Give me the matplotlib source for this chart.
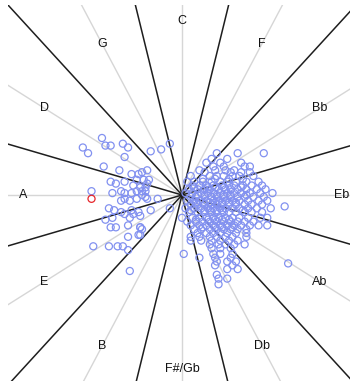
import numpy as np
import matplotlib
matplotlib.use("Agg")
import matplotlib.pyplot as plt

# Key names around the circle of fifths, clockwise from the top
keys = ["C", "F", "Bb", "Eb", "Ab", "Db", "F#/Gb", "B", "E", "A", "D", "G"]
key_angles_deg = [90, 60, 30, 0, -30, -60, -90, -120, -150, 180, 150, 120]

# Sector boundaries sit half-way between neighbouring keys
boundary_angles_deg = [15, 45, 75, 105, 135, 165, 195, 225, 255, 285, 315, 345]

# Pieces located in the key plane (x, y)
x = [
    # left group
    -0.57, -0.54, -0.46, -0.44, -0.41, -0.34, -0.31, -0.33, -0.18, -0.12, -0.07,
    -0.45, -0.36, -0.20, -0.29, -0.25, -0.41, -0.38, -0.33, -0.26, -0.22, -0.19,
    -0.28, -0.24, -0.21, -0.21, -0.52, -0.40, -0.35, -0.33, -0.29, -0.26, -0.23,
    -0.35, -0.33, -0.30, -0.26, -0.20, -0.14, -0.42, -0.39, -0.35, -0.29, -0.28,
    -0.24, -0.18, -0.44, -0.40, -0.33, -0.30, -0.41, -0.38, -0.31, -0.24, -0.23,
    -0.25, -0.31, -0.51, -0.42, -0.37, -0.34, -0.31, -0.30, -0.07, 0.01,
    -0.23, -0.20, -0.23, -0.21, -0.25, -0.24, -0.24,
    # right group
    0.20, 0.32, 0.47,
    0.17, 0.26,
    0.14, 0.22, 0.34,
    0.18, 0.24, 0.36, 0.39,
    0.10, 0.19, 0.25, 0.30,
    0.13, 0.28, 0.34, 0.39,
    0.05, 0.16, 0.20, 0.24, 0.29, 0.33, 0.41,
    0.12, 0.19, 0.27, 0.35,
    0.03, 0.07, 0.12, 0.17, 0.22, 0.26, 0.31, 0.37, 0.44,
    0.06, 0.10, 0.14, 0.18, 0.23, 0.27, 0.30, 0.35, 0.40, 0.46,
    0.07, 0.15, 0.19, 0.24, 0.34,
    0.04, 0.09, 0.13, 0.16, 0.21, 0.25, 0.28, 0.32, 0.37, 0.43, 0.48,
    0.02, 0.06, 0.11, 0.15, 0.18, 0.22, 0.26, 0.30, 0.34, 0.39, 0.45, 0.52,
    0.09, 0.13, 0.20, 0.24, 0.28, 0.37,
    0.05, 0.08, 0.13, 0.17, 0.20, 0.24, 0.28, 0.32, 0.36, 0.41, 0.47,
    0.03, 0.07, 0.10, 0.14, 0.18, 0.21, 0.25, 0.29, 0.33, 0.38, 0.44, 0.49,
    0.08, 0.12, 0.16, 0.19, 0.23, 0.27, 0.31,
    0.05, 0.09, 0.13, 0.17, 0.20, 0.23, 0.27, 0.31, 0.36, 0.40, 0.46, 0.59,
    0.02, 0.07, 0.11, 0.15, 0.18, 0.22, 0.25, 0.29, 0.33, 0.38, 0.43, 0.51,
    0.05, 0.13, 0.16, 0.20, 0.23, 0.35,
    0.04, 0.09, 0.13, 0.17, 0.20, 0.24, 0.27, 0.31, 0.36, 0.40, 0.46,
    0.00, 0.06, 0.10, 0.14, 0.18, 0.21, 0.25, 0.29, 0.33, 0.38, 0.45, 0.49,
    0.08, 0.15, 0.19, 0.23, 0.27,
    0.03, 0.08, 0.12, 0.16, 0.20, 0.24, 0.28, 0.32, 0.36, 0.41,
    0.05, 0.10, 0.14, 0.18, 0.22, 0.26, 0.30, 0.34, 0.39, 0.44, 0.49,
    0.12, 0.19, 0.23, 0.29,
    0.07, 0.11, 0.16, 0.20, 0.24, 0.28, 0.32, 0.37,
    0.09, 0.14, 0.18, 0.22, 0.26, 0.31, 0.37,
    0.05, 0.10, 0.16, 0.20, 0.25, 0.29, 0.37,
    0.05, 0.11, 0.17, 0.22, 0.27, 0.32,
    0.16, 0.21, 0.25, 0.30, 0.36,
    0.17, 0.22, 0.28,
    0.18, 0.22, 0.29,
    0.10, 0.19, 0.28,
    0.20, 0.26, 0.31, 0.61,
    0.19, 0.29,
    0.26, 0.32,
    0.20,
    0.21, 0.26,
    0.21,
]
y = [
    # left group
    0.25, 0.22, 0.30, 0.26, 0.26, 0.27, 0.25, 0.20, 0.23, 0.24, 0.27,
    0.15, 0.13, 0.13, 0.11, 0.11, 0.07, 0.06, 0.07, 0.08, 0.08, 0.08,
    0.05, 0.04, 0.04, 0.02, 0.02, 0.01, 0.02, 0.01, 0.01, 0.02, 0.00,
    -0.03, -0.02, -0.03, -0.02, -0.02, -0.02, -0.07, -0.08, -0.09, -0.08, -0.10,
    -0.11, -0.08, -0.13, -0.12, -0.10, -0.12, -0.17, -0.17, -0.16, -0.17, -0.18,
    -0.21, -0.22, -0.27, -0.27, -0.27, -0.27, -0.29, -0.40, -0.07, -0.31,
    0.12, 0.06, 0.02, -0.01, -0.09, -0.17, -0.21,
    # right group
    0.22, 0.22, 0.22,
    0.19, 0.19,
    0.17, 0.17, 0.17,
    0.15, 0.15, 0.15, 0.15,
    0.13, 0.13, 0.13, 0.13,
    0.12, 0.12, 0.12, 0.12,
    0.10, 0.10, 0.10, 0.10, 0.10, 0.10, 0.10,
    0.085, 0.085, 0.085, 0.085,
    0.07, 0.07, 0.07, 0.07, 0.07, 0.07, 0.07, 0.07, 0.07,
    0.05, 0.05, 0.05, 0.05, 0.05, 0.05, 0.05, 0.05, 0.05, 0.05,
    0.04, 0.04, 0.04, 0.04, 0.04,
    0.03, 0.03, 0.03, 0.03, 0.03, 0.03, 0.03, 0.03, 0.03, 0.03, 0.03,
    0.01, 0.01, 0.01, 0.01, 0.01, 0.01, 0.01, 0.01, 0.01, 0.01, 0.01, 0.01,
    0.00, 0.00, 0.00, 0.00, 0.00, 0.00,
    -0.01, -0.01, -0.01, -0.01, -0.01, -0.01, -0.01, -0.01, -0.01, -0.01, -0.01,
    -0.03, -0.03, -0.03, -0.03, -0.03, -0.03, -0.03, -0.03, -0.03, -0.03, -0.03, -0.03,
    -0.04, -0.04, -0.04, -0.04, -0.04, -0.04, -0.04,
    -0.05, -0.05, -0.05, -0.05, -0.05, -0.05, -0.05, -0.05, -0.05, -0.05, -0.05, -0.06,
    -0.07, -0.07, -0.07, -0.07, -0.07, -0.07, -0.07, -0.07, -0.07, -0.07, -0.07, -0.07,
    -0.08, -0.08, -0.08, -0.08, -0.08, -0.08,
    -0.09, -0.09, -0.09, -0.09, -0.09, -0.09, -0.09, -0.09, -0.09, -0.09, -0.09,
    -0.12, -0.12, -0.12, -0.12, -0.12, -0.12, -0.12, -0.12, -0.12, -0.12, -0.12, -0.12,
    -0.13, -0.13, -0.13, -0.13, -0.13,
    -0.14, -0.14, -0.14, -0.14, -0.14, -0.14, -0.14, -0.14, -0.14, -0.14,
    -0.16, -0.16, -0.16, -0.16, -0.16, -0.16, -0.16, -0.16, -0.16, -0.16, -0.16,
    -0.17, -0.17, -0.17, -0.17,
    -0.18, -0.18, -0.18, -0.18, -0.18, -0.18, -0.18, -0.18,
    -0.20, -0.20, -0.20, -0.20, -0.20, -0.20, -0.20,
    -0.22, -0.22, -0.22, -0.22, -0.22, -0.22, -0.22,
    -0.24, -0.24, -0.24, -0.24, -0.24, -0.24,
    -0.26, -0.26, -0.26, -0.26, -0.26,
    -0.28, -0.28, -0.28,
    -0.31, -0.31, -0.31,
    -0.33, -0.33, -0.33,
    -0.35, -0.35, -0.35, -0.36,
    -0.37, -0.37,
    -0.39, -0.39,
    -0.42,
    -0.44, -0.44,
    -0.47,
]

# The highlighted piece
highlight_x = [-0.52]
highlight_y = [-0.02]

label_radius = 0.915
ray_length = 2.0

fig = plt.figure(figsize=(3.50, 3.81), dpi=100)
ax = fig.add_axes([8 / 350, -4 / 381, 348 / 350, 380 / 381])
ax.set_xlim(-1, 1)
ax.set_ylim(-1, 1)
ax.axis("off")

# Light guide rays through each key direction
for a in key_angles_deg:
    t = np.deg2rad(a)
    ax.plot([0, ray_length * np.cos(t)], [0, ray_length * np.sin(t)],
            color="#d6d6d6", lw=1.0, zorder=1, solid_capstyle="butt")

# Dark sector boundaries
for a in boundary_angles_deg:
    t = np.deg2rad(a)
    ax.plot([0, ray_length * np.cos(t)], [0, ray_length * np.sin(t)],
            color="#1e1e1e", lw=1.1, zorder=2, solid_capstyle="butt")

ax.scatter(x, y, s=26, facecolors="none", edgecolors="#8291f0",
           linewidths=0.9, zorder=3)
ax.scatter(highlight_x, highlight_y, s=26, facecolors="none",
           edgecolors="#e6262b", linewidths=0.9, zorder=4)

for name, a in zip(keys, key_angles_deg):
    t = np.deg2rad(a)
    ax.text(label_radius * np.cos(t), label_radius * np.sin(t), name,
            ha="center", va="center", fontsize=9,
            family=["Liberation Sans", "DejaVu Sans"], color="#111111",
            zorder=5)

fig.savefig("out.png", dpi=100, facecolor="white")
